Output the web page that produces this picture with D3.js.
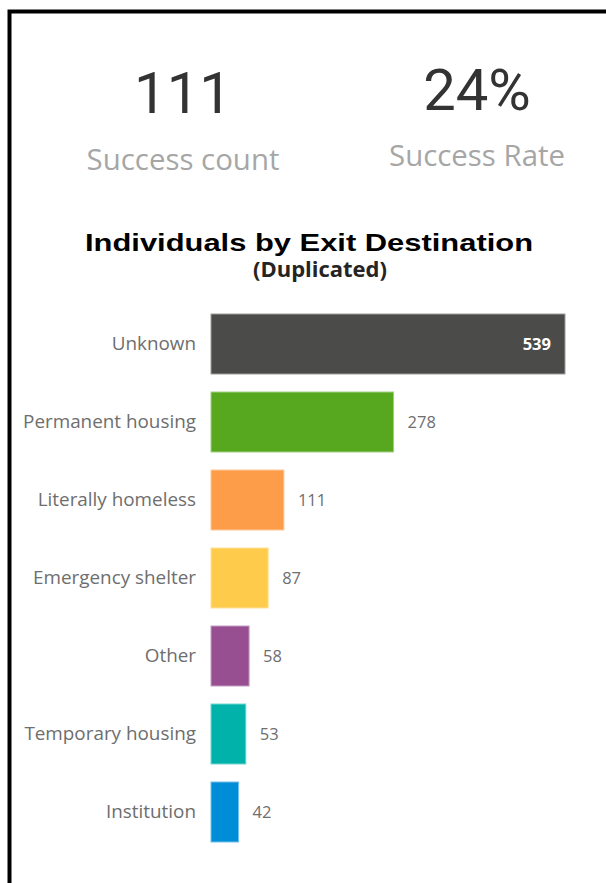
<!DOCTYPE html>
<html>
<head>
<meta charset="utf-8">
<script src="https://cdn.jsdelivr.net/npm/d3@7"></script>
<style>
html,body{margin:0;padding:0;background:#fff;}
svg{display:block;}
</style>
</head>
<body>
<svg id="chart" width="606" height="883"></svg>
<script>
const categories = ["Unknown","Permanent housing","Literally homeless","Emergency shelter","Other","Temporary housing","Institution"];
const values = [539,278,111,87,58,53,42];
const colors = ["#4B4C49","#57A81E","#FD9D4A","#FFCB4A","#984F91","#00B2A9","#008DD8"];
const kpiValues = ["111","24%"];
const kpiLabels = ["Success count","Success Rate"];
const titleText = "Individuals by Exit Destination";
const subtitleText = "(Duplicated)";

const svg = d3.select("#chart");

// border frame
svg.append("rect").attr("x",9.5).attr("y",11.5).attr("width",620).attr("height",900)
  .attr("fill","none").attr("stroke","#000").attr("stroke-width",4);

function fit(sel, target){
  const w = sel.node().getComputedTextLength();
  const fs = parseFloat(sel.attr("font-size"));
  sel.attr("font-size", fs*target/w);
}

// KPI cards
const kpiX = [183, 477];
const kpiLabW = [193, 176];
const kpiNumY = [113, 110];
const kpiLabY = [170, 166];
kpiValues.forEach((v,i)=>{
  svg.append("text").attr("x",kpiX[i]).attr("y",kpiNumY[i]).attr("text-anchor","middle")
    .attr("font-family","Roboto, 'DejaVu Sans', sans-serif").attr("font-size",58)
    .attr("fill","#333333").text(v);
  const t = svg.append("text").attr("x",kpiX[i]).attr("y",kpiLabY[i]).attr("text-anchor","middle")
    .attr("font-family","'Open Sans', 'Noto Sans', sans-serif").attr("font-size",28)
    .attr("fill","#a6a6a6").text(kpiLabels[i]);
  fit(t, kpiLabW[i]);
});

// Title (reference glyphs are horizontally stretched)
svg.append("text").attr("x",309).attr("y",251).attr("text-anchor","middle")
  .attr("font-family","'Liberation Sans', Arial, sans-serif").attr("font-weight","bold")
  .attr("font-size",24).attr("fill","#000")
  .attr("textLength",448).attr("lengthAdjust","spacingAndGlyphs")
  .text(titleText);
const st = svg.append("text").attr("x",320).attr("y",277).attr("text-anchor","middle")
  .attr("font-family","'Open Sans', 'Noto Sans', sans-serif").attr("font-weight","bold")
  .attr("font-size",17).attr("fill","#252423").text(subtitleText);
fit(st, 134);

// Bars
const x = d3.scaleLinear().domain([0, d3.max(values)]).range([211, 565]);
const y = d3.scaleBand().domain(categories).range([305, 851]).paddingInner(18/78).paddingOuter(9/78);
const data = categories.map((c,i)=>({c, v: values[i], col: colors[i]}));

svg.append("g").selectAll("rect").data(data).join("rect")
  .attr("x", x(0)).attr("y", d=>y(d.c))
  .attr("width", d=>x(d.v)-x(0)).attr("height", y.bandwidth())
  .attr("fill", d=>d.col)
  .attr("stroke", d=>d3.interpolateRgb(d.col,"#ffffff")(0.45)).attr("stroke-width",1);

// category axis labels
const yAxis = d3.axisLeft(y).tickSize(0).tickPadding(15);
const ag = svg.append("g").attr("transform",`translate(${x(0)},0)`).call(yAxis);
ag.select(".domain").remove();
ag.selectAll("text").attr("font-family","'Open Sans', 'Noto Sans', sans-serif")
  .attr("font-size",17).attr("fill","#6e6e6e");
const probe = ag.selectAll("text").filter(d=>d==="Permanent housing");
const pw = probe.node().getComputedTextLength();
ag.selectAll("text").attr("font-size", 17*173/pw);

// value labels
svg.append("g").selectAll("text").data(data).join("text")
  .attr("x", (d,i)=> i===0 ? x(d.v)-14 : x(d.v)+14)
  .attr("y", d=>y(d.c)+y.bandwidth()/2)
  .attr("dy","0.35em")
  .attr("text-anchor", (d,i)=> i===0 ? "end" : "start")
  .attr("font-family","'Open Sans', 'Noto Sans', sans-serif")
  .attr("font-size",16.5)
  .attr("font-weight",(d,i)=> i===0 ? "bold" : "normal")
  .attr("fill",(d,i)=> i===0 ? "#ffffff" : "#6e6e6e")
  .text(d=>d.v);
</script>
</body>
</html>
